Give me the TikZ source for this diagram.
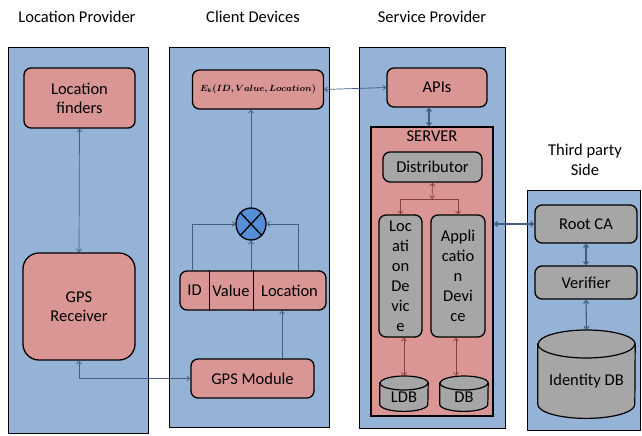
\documentclass[tikz,border=0pt]{standalone}
\usepackage{fontspec}
\usepackage{bm}
\setmainfont{Carlito}
\usetikzlibrary{shapes.geometric,arrows.meta,calc}
\definecolor{panelblue}{HTML}{95B3D7}
\definecolor{boxpink}{HTML}{D99694}
\definecolor{boxgray}{HTML}{A6A6A6}
\definecolor{xblue}{HTML}{558ED5}
\definecolor{linkblue}{HTML}{425E80}
\definecolor{linkred}{HTML}{8C3B3B}
% cylinder: name, centre x, top y, width, height, ellipse y-radius
\newcommand{\mycyl}[6]{%
  \node[minimum width=#4, minimum height=#5, inner sep=0pt, anchor=north] (#1) at (#2,#3) {};
  \draw[line width=1.2pt, fill=boxgray]
    ($(#1.north west)+(0,#6)$) -- ($(#1.south west)-(0,#6)$)
    arc[start angle=180, end angle=0, x radius=#4/2, y radius=#6]
    -- ($(#1.north east)+(0,#6)$)
    arc[start angle=0, end angle=-180, x radius=#4/2, y radius=#6] -- cycle;
  \draw[line width=1.2pt] ($(#1.north west)+(0,#6)$)
    arc[start angle=180, end angle=0, x radius=#4/2, y radius=#6];
}
\begin{document}
\begin{tikzpicture}[x=1pt,y=-1pt,
  font=\fontsize{16.5}{19}\selectfont,
  panel/.style={draw=black, line width=1.3pt, fill=panelblue, anchor=north west, inner sep=0pt},
  pinkbox/.style={draw=black, line width=1.3pt, fill=boxpink, rounded corners=7pt, inner sep=1pt, align=center},
  graybox/.style={draw=black, line width=1.3pt, fill=boxgray, rounded corners=7pt, inner sep=1pt, align=center},
  tip/.tip={Straight Barb[length=3pt,width=5pt]},
  link/.style={draw=linkblue, line width=0.7pt, tip-tip},
  thicklink/.style={draw=linkblue, line width=1.1pt, tip-tip},
  arr/.style={draw=linkblue, line width=0.7pt, -tip},
  redlink/.style={draw=linkred, line width=0.7pt, tip-tip},
  redarr/.style={draw=linkred, line width=0.7pt, -tip},
  title/.style={font=\fontsize{16.5}{20}\selectfont, align=center},
  mathtext/.style={font=\fontsize{8.6}{11}\selectfont}
]
\useasboundingbox (0,0) rectangle (642,436);

% titles
\node[title] (tlp) at (77,17) {Location Provider};
\node[title] (tcd) at (253,17) {Client Devices};
\node[title] (tsp) at (432,17) {Service Provider};
\node[title] (ttp) at (585,160) {Third party\\Side};

% panels
\node[panel, minimum width=140, minimum height=386] (lp) at (8,47) {};
\node[panel, minimum width=160, minimum height=380] (cd) at (169,47) {};
\node[panel, minimum width=146, minimum height=381] (sp) at (359,47) {};
\node[panel, minimum width=113, minimum height=240] (tp) at (527,190) {};

% location provider
\node[pinkbox, minimum width=111, minimum height=60] (lf) at (79.5,98) {Location\\finders};
\node[pinkbox, rounded corners=16pt, minimum width=112, minimum height=107] (gpsr) at (79,306.5) {GPS\\Receiver};

% client devices
\node[pinkbox, mathtext, minimum width=131, minimum height=39] (ebox) at (258,89.5) {$\bm{E_k(ID,Value,Location)}$};
\node[draw=black, line width=1.3pt, fill=xblue, ellipse, minimum width=30, minimum height=32, inner sep=0pt] (mix) at (251,224) {};
\draw[line width=1.3pt] (mix.north west) -- (mix.south east);
\draw[line width=1.3pt] (mix.north east) -- (mix.south west);
\node[pinkbox, minimum width=146, minimum height=39] (fields) at (253,290.5) {};
\node (fid) at (194.5,290.5) {ID};
\node (fval) at (231,290.5) {Value};
\node (floc) at (289.5,290.5) {Location};
\draw[line width=0.8pt] (fields.north -| 209,0) -- (fields.south -| 209,0);
\draw[line width=0.8pt] (fields.north -| 253,0) -- (fields.south -| 253,0);
\node[pinkbox, minimum width=123, minimum height=39] (gpsm) at (252.5,378.5) {GPS Module};

% service provider
\node[pinkbox, minimum width=100, minimum height=39] (apis) at (437,87.5) {APIs};
\node[draw=black, line width=1.3pt, fill=boxpink, minimum width=122, minimum height=289, inner sep=0pt] (server) at (432,271.5) {};
\node (srvlbl) at (432,136) {SERVER};
\node[graybox, minimum width=99, minimum height=30] (dist) at (432.5,167) {Distributor};
\node[graybox, minimum width=43, minimum height=122, font=\fontsize{16.5}{20}\selectfont] (loc) at (400.5,276) {Loc\\ati\\on\\De\\vic\\e};
\node[graybox, minimum width=54, minimum height=122, font=\fontsize{16.5}{20}\selectfont] (app) at (458,276) {Appli\\catio\\n\\Devi\\ce};
\mycyl{ldb}{404}{376}{48}{35}{7}
\node (ldbt) at (404,397) {LDB};
\mycyl{db}{464}{376}{48}{35}{7}
\node (dbt) at (464,397) {DB};
\coordinate (split) at (432,199);

% third party
\node[graybox, minimum width=102, minimum height=38] (rootca) at (586,224) {Root CA};
\node[graybox, minimum width=102, minimum height=33] (verifier) at (586,282.5) {Verifier};
\mycyl{idb}{586.5}{330}{97}{88}{14}
\node (idbt) at (586.5,381) {Identity DB};

% connectors
\draw[link] (lf.south) -- (gpsr.north);
\draw[link] (gpsr.south) |- (gpsm.west);
\draw[arr] (gpsm.north -| 282,0) -- (fields.south -| 282,0);
\draw[arr] (fields.north -| 192,0) |- (mix.west);
\draw[arr] (fields.north -| mix.south) -- (mix.south);
\draw[arr] (fields.north -| 298,0) |- (mix.east);
\draw[arr] (mix.north) -- (ebox.south -| mix.north);
\draw[link] (ebox.east) -- (apis.west);
\draw[thicklink] (apis.south -| 429,0) -- (server.north -| 429,0);
\draw[redlink] (dist.south) -- (split);
\draw[redarr] (split) -| (loc.north);
\draw[redarr] (split) -| (app.north);
\draw[redlink] (loc.south -| ldb.north) -- (ldb.north);
\draw[redlink] (app.south -| 456,0) -- (db.north -| 456,0);
\draw[thicklink] (server.east |- rootca.west) -- (rootca.west);
\draw[thicklink] (rootca.south) -- (verifier.north);
\draw[thicklink] (verifier.south) -- (idb.north);
\end{tikzpicture}
\end{document}
